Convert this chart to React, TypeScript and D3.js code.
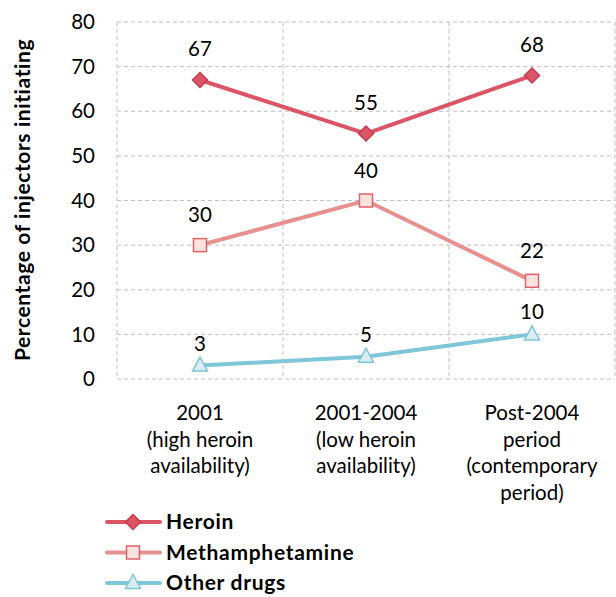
import React from "react";
import * as d3 from "d3";

const categories = [
  ["2001", "(high heroin", "availability)"],
  ["2001-2004", "(low heroin", "availability)"],
  ["Post-2004", "period", "(contemporary", "period)"],
];
const heroin = [67, 55, 68];
const meth = [30, 40, 22];
const other = [3, 5, 10];
const yTicks = [0, 10, 20, 30, 40, 50, 60, 70, 80];
const seriesNames = ["Heroin", "Methamphetamine", "Other drugs"];

const FONT = "Lato, 'Open Sans', sans-serif";

export default function App() {
  const W = 616, H = 597;
  const left = 117, right = 615, top = 22, bottom = 379;
  const x = d3.scaleBand<number>().domain([0, 1, 2]).range([left, right]);
  const y = d3.scaleLinear().domain([0, 80]).range([bottom, top]);
  const cx = (i: number) => (x(i) as number) + x.bandwidth() / 2;
  const line = d3.line<number>().x((_, i) => cx(i)).y((d) => y(d));

  const series = [
    { name: seriesNames[0], data: heroin, line: "#dc5566", fill: "#dc5566", stroke: "#c83a50", shape: "diamond", off: 24 },
    { name: seriesNames[1], data: meth, line: "#e8908f", fill: "#fbe4e0", stroke: "#e0606a", shape: "square", off: 23 },
    { name: seriesNames[2], data: other, line: "#7ec6d8", fill: "#d9edf3", stroke: "#7ec6d8", shape: "triangle", off: 15 },
  ];

  const marker = (shape: string, px: number, py: number, fill: string, stroke: string, key: any) => {
    if (shape === "diamond") {
      const r = 7.5;
      return <path key={key} d={`M${px},${py - r}L${px + r},${py}L${px},${py + r}L${px - r},${py}Z`} fill={fill} stroke={stroke} strokeWidth={1.5} />;
    }
    if (shape === "square") {
      const r = 6.5;
      return <rect key={key} x={px - r} y={py - r} width={2 * r} height={2 * r} fill={fill} stroke={stroke} strokeWidth={1.5} />;
    }
    const r = 7.5;
    return <path key={key} d={`M${px},${py - r - 1}L${px + r},${py + r - 2}L${px - r},${py + r - 2}Z`} fill={fill} stroke={stroke} strokeWidth={1.5} />;
  };

  return (
    <svg width={W} height={H} style={{ position: "absolute", left: 0, top: 0, background: "#fff" }} fontFamily={FONT}>
      {/* grid */}
      {yTicks.map((t) => (
        <line key={"gy" + t} x1={left} x2={right} y1={y(t)} y2={y(t)} stroke="#bfbfbf" strokeWidth={1} strokeDasharray="4,3" />
      ))}
      {[0, 1, 2, 3].map((i) => {
        const xx = i < 3 ? (x(i) as number) : right;
        return <line key={"gx" + i} x1={xx} x2={xx} y1={top} y2={bottom} stroke="#bfbfbf" strokeWidth={1} strokeDasharray="4,3" />;
      })}
      {/* y ticks */}
      {yTicks.map((t) => (
        <text key={"yt" + t} x={95} y={y(t)} dy="0.35em" textAnchor="end" fontSize={20.5} fill="#000">{t}</text>
      ))}
      <text transform={`translate(30,${200}) rotate(-90)`} textAnchor="middle" fontSize={21} letterSpacing={0.6} fontWeight="bold" fill="#000">
        Percentage of injectors initiating
      </text>
      {/* x labels */}
      {categories.map((lines, i) => (
        <text key={"xl" + i} x={cx(i)} textAnchor="middle" fontSize={20.5} fill="#000">
          {lines.map((l, j) => (
            <tspan key={j} x={cx(i)} y={420 + j * 26.7}>{l}</tspan>
          ))}
        </text>
      ))}
      {/* series */}
      {series.map((s, si) => (
        <g key={"s" + si}>
          <path d={line(s.data) as string} fill="none" stroke={s.line} strokeWidth={4} />
          {s.data.map((d, i) => marker(s.shape, cx(i), y(d), s.fill, s.stroke, i))}
          {s.data.map((d, i) => (
            <text key={"l" + i} x={cx(i)} y={y(d) - s.off} textAnchor="middle" fontSize={20.5} fill="#000">{d}</text>
          ))}
        </g>
      ))}
      {/* legend */}
      {series.map((s, si) => {
        const ly = 522 + si * 30.5;
        return (
          <g key={"lg" + si}>
            <line x1={107} x2={160} y1={ly} y2={ly} stroke={s.line} strokeWidth={4} strokeLinecap="round" />
            {marker(s.shape, 133, ly, s.fill, s.stroke, "m")}
            <text x={166} y={ly} dy="0.34em" fontSize={21} letterSpacing={0.7} fontWeight="bold" fill="#000">{s.name}</text>
          </g>
        );
      })}
    </svg>
  );
}
